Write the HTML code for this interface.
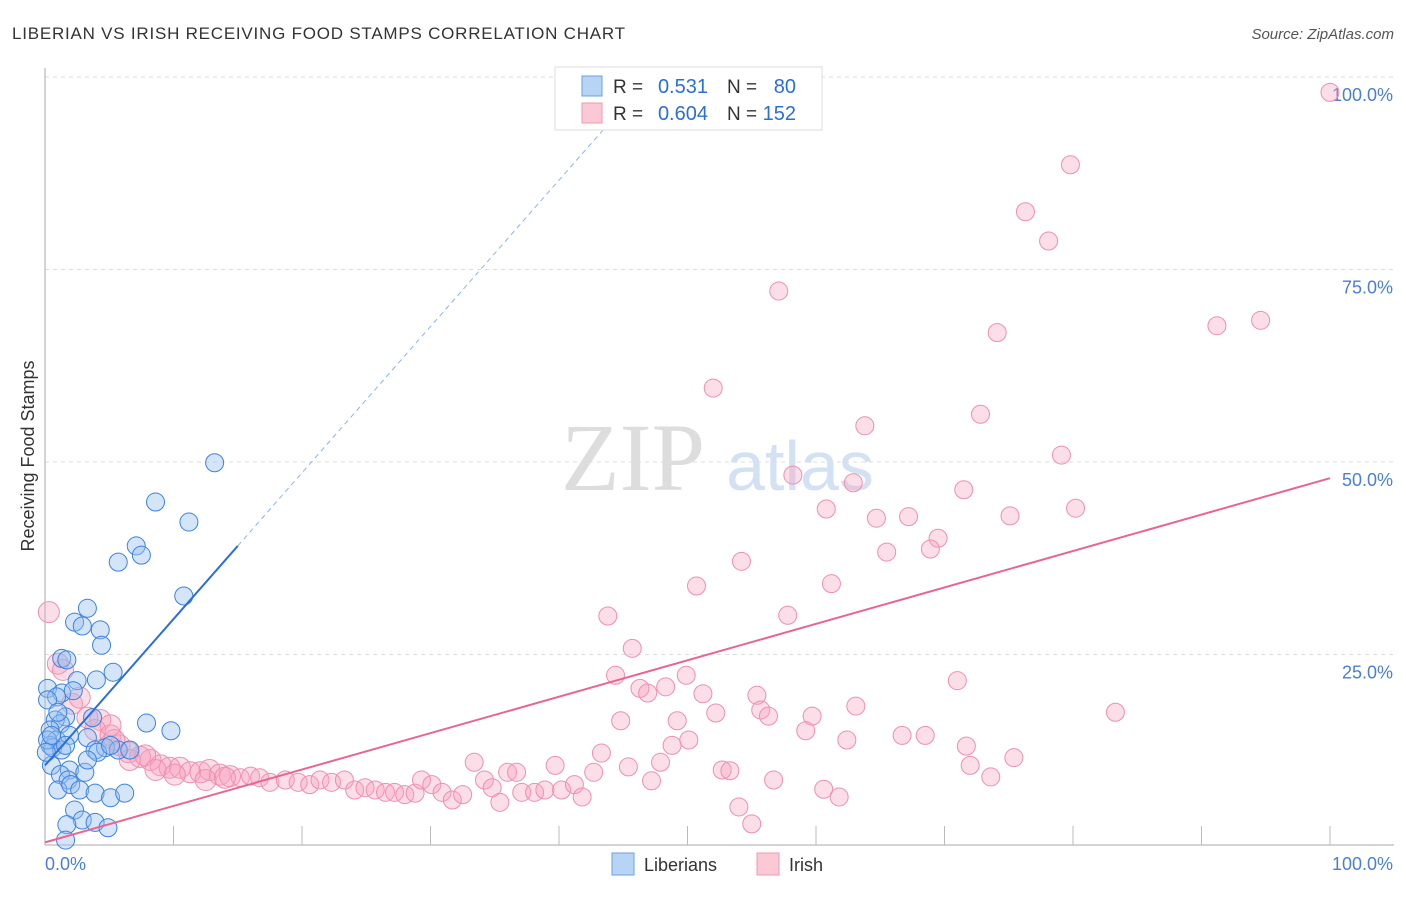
<!DOCTYPE html>
<html><head><meta charset="utf-8"><style>
body{margin:0;background:#fff;font-family:"Liberation Sans",sans-serif;}
svg text{font-family:"Liberation Sans",sans-serif;}
</style></head><body>
<svg id="c" width="1406" height="892">
<text x="12" y="39" font-size="17" fill="#333" textLength="613">LIBERIAN VS IRISH RECEIVING FOOD STAMPS CORRELATION CHART</text>
<text x="1394" y="39" font-size="15" fill="#555" font-style="italic" text-anchor="end">Source: ZipAtlas.com</text>
<text x="34" y="456" font-size="18" fill="#333" transform="rotate(-90 34 456)" text-anchor="middle">Receiving Food Stamps</text>
<text x="633" y="490" font-size="96" fill="#ddd" text-anchor="middle" style="font-family:'Liberation Serif',serif">ZIP</text>
<text x="800" y="490" font-size="70" fill="#d3e1f4" text-anchor="middle">atlas</text>
<g id="grid"></g><g id="pts"></g><g id="lines"></g>
<g>
<rect x="555" y="67" width="267" height="63" fill="#fff" stroke="#ddd"/>
<rect x="582" y="76" width="20" height="20" fill="#b8d4f5" stroke="#6a9fe0"/>
<rect x="582" y="103" width="20" height="20" fill="#fbc8d6" stroke="#ef9ab3"/>
<text x="613" y="93" font-size="19" fill="#333">R =</text>
<text x="708" y="93" font-size="20" fill="#2a6fd6" text-anchor="end">0.531</text>
<text x="727" y="93" font-size="19" fill="#333">N =</text>
<text x="796" y="93" font-size="20" fill="#2a6fd6" text-anchor="end">80</text>
<text x="613" y="120" font-size="19" fill="#333">R =</text>
<text x="708" y="120" font-size="20" fill="#2a6fd6" text-anchor="end">0.604</text>
<text x="727" y="120" font-size="19" fill="#333">N =</text>
<text x="796" y="120" font-size="20" fill="#2a6fd6" text-anchor="end">152</text>
</g>
<g>
<rect x="612" y="853" width="22" height="22" fill="#b8d4f5" stroke="#6a9fe0"/>
<text x="644" y="871" font-size="18" fill="#333">Liberians</text>
<rect x="757" y="853" width="22" height="22" fill="#fbc8d6" stroke="#ef9ab3"/>
<text x="789" y="871" font-size="18" fill="#333">Irish</text>
</g>
</svg>
<script>
const yTicks=[25,50,75,100];
const yTickLabels=["25.0%","50.0%","75.0%","100.0%"];
const xTickLabels=["0.0%","100.0%"];
const blueX=[13.2,8.6,11.2,7.1,7.5,5.7,10.8,3.3,2.3,2.9,4.3,4.4,1.3,1.7,5.3,0.2,2.5,4.0,1.3,2.2,0.9,1.6,0.8,1.2,0.4,3.7,7.9,9.8,0.9,1.9,3.3,0.4,0.6,1.3,1.6,3.9,4.7,5.7,4.1,0.5,1.9,3.1,1.2,1.8,1.0,2.0,2.7,3.9,5.1,6.2,2.3,2.9,3.9,4.9,1.7,1.6,0.2,1.0,6.6,5.1,3.3,0.2,0.5,0.1];
const blueY=[49.9,44.8,42.2,39.1,37.9,37.0,32.6,31.0,29.2,28.7,28.2,26.2,24.5,24.3,22.7,20.6,21.6,21.7,20.0,20.3,19.5,16.9,16.5,16.0,15.2,16.8,16.1,15.1,13.9,14.5,14.2,13.2,12.9,12.6,13.2,12.6,12.9,12.6,12.3,10.6,10.0,9.7,9.4,8.7,7.4,8.1,7.4,7.0,6.4,7.0,4.8,3.5,3.2,2.5,2.9,0.9,19.1,17.5,12.6,13.2,11.3,13.9,14.5,12.3];
const pinkX=[100,79.8,76.3,78.1,57.1,74.1,91.2,94.6,52.0,72.8,63.8,79.1,58.2,62.9,71.5,60.8,64.7,67.2,75.1,80.2,69.5,68.9,65.5,54.2,50.7,61.2,57.8,43.8,45.7,44.4,49.9,71.0,46.3,48.3,46.9,51.2,55.4,55.7,56.3,52.2,63.1,59.7,83.3,44.8,49.2,59.2,62.4,66.7,68.5,50.1,48.8,71.7,43.3,75.4,47.9,72.0,45.4,52.7,53.3,73.6,56.7,47.2,60.6,61.8,54.0,55.0,0.3,1.0,1.4,2.1,3.3,4.3,3.9,5.1,5.8,6.5,7.4,8.2,9.0,9.7,10.5,11.3,12.1,12.8,13.6,14.4,15.2,16.0,16.7,17.5,18.7,19.7,20.6,21.4,22.3,23.3,24.1,24.9,25.7,26.5,27.2,28.0,28.8,29.3,30.1,30.9,31.7,32.5,33.4,34.2,34.8,35.4,36.0,36.7,37.1,38.1,38.9,39.7,40.2,41.2,41.8,42.7,6.6,7.8,2.7,5.4,8.6,10.1,12.5,14.0,5.1];
const pinkY=[98,88.6,82.5,78.7,72.2,66.8,67.7,68.4,59.6,56.2,54.7,50.9,48.3,47.3,46.4,43.9,42.7,42.9,43.0,44.0,40.1,38.7,38.3,37.1,33.9,34.2,30.1,30.0,25.8,22.3,22.3,21.6,20.6,20.8,20.0,19.9,19.7,17.8,17.0,17.4,18.3,17.0,17.5,16.4,16.4,15.1,13.9,14.5,14.5,13.9,13.2,13.1,12.2,11.6,11.0,10.6,10.4,10.0,9.9,9.1,8.7,8.6,7.5,6.5,5.2,3.0,30.5,23.8,23.0,18.6,16.8,16.5,15.2,14.5,13.2,12.3,11.7,11.3,10.6,10.3,10.3,9.7,9.7,10.0,9.4,9.2,9.0,9.2,9.0,8.4,8.7,8.4,8.1,8.7,8.4,8.7,7.4,7.7,7.4,7.1,7.1,6.8,7.0,8.7,8.1,7.1,6.1,6.8,11.0,8.7,7.7,5.8,9.7,9.7,7.1,7.1,7.4,10.6,7.4,8.1,6.5,9.7,11.3,11.9,19.4,13.9,10.0,9.4,8.7,9.0,15.8];
const blueLine=[10.6,1.9];
const pinkLine=[0.6,0.473];
const NS="http://www.w3.org/2000/svg";
const X=v=>45+v*12.85, Y=v=>847-v*7.7;
function mk(t,a,p){const e=document.createElementNS(NS,t);for(const k in a)e.setAttribute(k,a[k]);p.appendChild(e);return e;}
const g=document.getElementById('grid');
yTicks.forEach((t,i)=>{
 const l=mk('line',{x1:45,x2:1394,y1:Y(t),y2:Y(t),stroke:'#ddd','stroke-dasharray':'4,4'},g);
 
 
 const tx=mk('text',{x:1393,y:Y(t)+24,'font-size':18,fill:'#4a7fd4','text-anchor':'end'},g);
 tx.textContent=yTickLabels[i];
 
 
});
const ax=mk('line',{x1:45,x2:45,y1:68,y2:845,stroke:'#aaa'},g);


const bx=mk('line',{x1:45,x2:1394,y1:845,y2:845,stroke:'#aaa'},g);


for(let i=1;i<=10;i++){const t=mk('line',{x1:X(i*10),x2:X(i*10),y1:826,y2:845,stroke:'#bbb'},g);
 
 }
[[0,'start'],[100,'end']].forEach((d,i)=>{const t=mk('text',{x:i?1393:45,y:870,'font-size':18,fill:'#4a7fd4','text-anchor':d[1]},g);
 t.textContent=xTickLabels[i];
 
 });
const p=document.getElementById('pts');
pinkX.forEach((x,i)=>{const c=mk('circle',{cx:X(x),cy:Y(pinkY[i]),r:x<15?10.5:9,fill:'rgba(246,160,188,0.35)',stroke:'#ef8fae','stroke-width':1},p);
 
 });
blueX.forEach((x,i)=>{const c=mk('circle',{cx:X(x),cy:Y(blueY[i]),r:9,fill:'rgba(150,190,240,0.4)',stroke:'#3b82e0','stroke-width':1},p);
 
 });
const L=document.getElementById('lines');
const bl=mk('line',{x1:X(0),y1:Y(blueLine[0]),x2:X(15),y2:Y(blueLine[0]+15*blueLine[1]),stroke:'#2a6fd6','stroke-width':2},L);


const xe=(100-blueLine[0])/blueLine[1]*0.96;
const bd=mk('line',{x1:X(15),y1:Y(blueLine[0]+15*blueLine[1]),x2:X(xe),y2:Y(blueLine[0]+xe*blueLine[1]),stroke:'#8ab4ea','stroke-width':1,'stroke-dasharray':'5,4'},L);


const pl=mk('line',{x1:X(0),y1:Y(pinkLine[0]),x2:X(100),y2:Y(pinkLine[0]+100*pinkLine[1]),stroke:'#e8658f','stroke-width':2},L);


</script>
</body></html>
